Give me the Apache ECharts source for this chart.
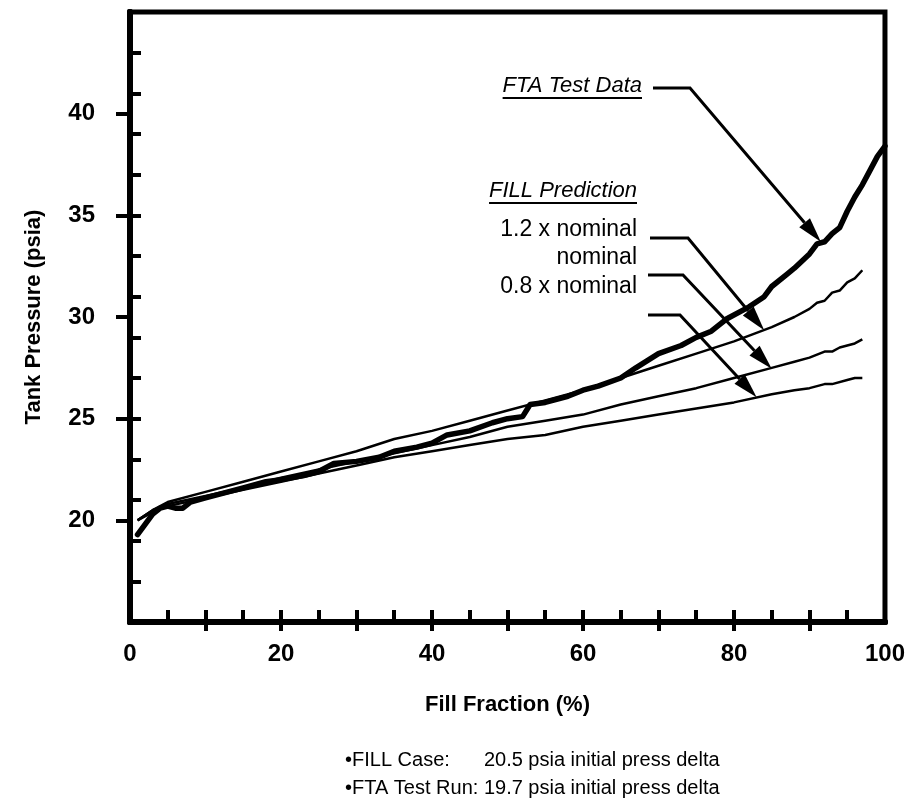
<!DOCTYPE html>
<html><head><meta charset="utf-8">
<script src="https://cdn.jsdelivr.net/npm/echarts/dist/echarts.min.js"></script>
<style>html,body{margin:0;padding:0;background:#fff}#c{width:908px;height:812px}</style>
</head><body><div id="c"></div>
<script>
// ---- data ----
const xTickLabels = [0, 20, 40, 60, 80, 100];
const xOuterTicks = [10, 20, 30, 40, 50, 60, 70, 80, 90];
const yTickLabels = [20, 25, 30, 35, 40];

const ftaTest = [
  [1,19.3],[2,19.8],[3,20.3],[4,20.6],[5,20.7],[6,20.6],[7,20.6],[8,20.9],[10,21.1],[12,21.3],
  [15,21.6],[18,21.9],[20,22.0],[23,22.2],[25,22.4],[27,22.8],[30,22.9],[33,23.1],[35,23.4],
  [38,23.6],[40,23.8],[42,24.2],[45,24.4],[48,24.8],[50,25.0],[52,25.1],[53,25.7],[55,25.8],
  [58,26.1],[60,26.4],[62,26.6],[65,27.0],[67,27.5],[70,28.2],[73,28.6],[75,29.0],[77,29.3],
  [79,29.9],[82,30.5],[84,31.0],[85,31.5],[87,32.1],[88,32.4],[90,33.1],[91,33.6],[92,33.7],
  [93,34.1],[94,34.4],[95,35.2],[96,35.9],[97,36.5],[98,37.2],[99,37.9],[100,38.4]
];
const fill12 = [
  [1,20.0],[3,20.5],[5,20.9],[10,21.4],[15,21.9],[20,22.4],[25,22.9],[30,23.4],[35,24.0],
  [40,24.4],[45,24.9],[50,25.4],[55,25.9],[60,26.4],[65,27.0],[70,27.6],[75,28.2],[80,28.8],
  [85,29.5],[88,30.0],[90,30.4],[91,30.7],[92,30.8],[93,31.2],[94,31.3],[95,31.7],[96,31.9],[97,32.3]
];
const fillNom = [
  [1,20.0],[3,20.5],[5,20.8],[10,21.2],[15,21.6],[20,22.1],[25,22.5],[30,22.9],[35,23.3],
  [40,23.7],[45,24.1],[50,24.6],[55,24.9],[60,25.2],[65,25.7],[70,26.1],[75,26.5],[80,27.0],
  [85,27.5],[88,27.8],[90,28.0],[92,28.3],[93,28.3],[94,28.5],[95,28.6],[96,28.7],[97,28.9]
];
const fill08 = [
  [1,20.0],[3,20.4],[5,20.7],[10,21.1],[15,21.5],[20,21.9],[25,22.3],[30,22.7],[35,23.1],
  [40,23.4],[45,23.7],[50,24.0],[55,24.2],[60,24.6],[65,24.9],[70,25.2],[75,25.5],[80,25.8],
  [85,26.2],[88,26.4],[90,26.5],[92,26.7],[93,26.7],[95,26.9],[96,27.0],[97,27.0]
];
const seriesNames = ['FTA Test Data', '1.2 x nominal', 'nominal', '0.8 x nominal'];
const footRows = [['\u2022FILL Case:', '20.5 psia initial press delta'], ['\u2022FTA Test Run:', '19.7 psia initial press delta']];

// ---- chart ----
const FONT = '"Liberation Sans", Arial, Helvetica, sans-serif';
const chart = echarts.init(document.getElementById('c'), null, {renderer: 'canvas'});
const axisCommon = {type: 'value', splitLine: {show: false},
  axisLine: {show: true, lineStyle: {color: '#000', width: 6}}};
const lbl = {color: '#000', fontFamily: FONT, fontWeight: 'bold', fontSize: 24};

const option = {
  animation: false,
  backgroundColor: '#fff',
  grid: {left: 130, right: 13, top: 12, bottom: 190, show: true, borderColor: '#000', borderWidth: 5},
  xAxis: [
    Object.assign({}, axisCommon, {min: 0, max: 100, interval: 5, position: 'bottom',
      axisTick: {inside: true, length: 12, lineStyle: {width: 4, color: '#000'}},
      axisLabel: {show: false}}),
    Object.assign({}, axisCommon, {min: 0, max: 100, interval: 10, position: 'bottom',
      axisTick: {inside: false, length: 9, customValues: xOuterTicks, lineStyle: {width: 4, color: '#000'}},
      axisLabel: Object.assign({margin: 20, customValues: xTickLabels,
        formatter: v => xTickLabels.includes(v) ? String(v) : ''}, lbl),
      name: 'Fill Fraction (%)', nameLocation: 'middle', nameGap: 72,
      nameTextStyle: {color: '#000', fontFamily: FONT, fontWeight: 'bold', fontSize: 22}})
  ],
  yAxis: [
    Object.assign({}, axisCommon, {min: 15, max: 45, interval: 2, position: 'left',
      axisTick: {inside: true, length: 11, lineStyle: {width: 4, color: '#000'}},
      axisLabel: {show: false}}),
    Object.assign({}, axisCommon, {min: 15, max: 45, interval: 5, position: 'left',
      axisTick: {inside: false, length: 14, customValues: yTickLabels, lineStyle: {width: 4, color: '#000'}},
      axisLabel: Object.assign({margin: 35, customValues: yTickLabels,
        formatter: v => yTickLabels.includes(v) ? String(v) : ''}, lbl),
      name: 'Tank Pressure (psia)', nameLocation: 'middle', nameGap: 85, nameRotate: 90,
      nameTextStyle: {color: '#000', fontFamily: FONT, fontWeight: 'bold', fontSize: 22}})
  ],
  series: [
    {name: seriesNames[1], type: 'line', data: fill12, showSymbol: false, z: 3,
      lineStyle: {color: '#000', width: 2.5}},
    {name: seriesNames[2], type: 'line', data: fillNom, showSymbol: false, z: 3,
      lineStyle: {color: '#000', width: 2.5}},
    {name: seriesNames[3], type: 'line', data: fill08, showSymbol: false, z: 3,
      lineStyle: {color: '#000', width: 2.5}},
    {name: seriesNames[0], type: 'line', data: ftaTest, showSymbol: false, z: 4,
      lineStyle: {color: '#000', width: 5.5, join: 'round', cap: 'round'}}
  ]
};
chart.setOption(option);

// ---- annotations ----
const ctx = document.createElement('canvas').getContext('2d');
function textW(t, size, style) { ctx.font = (style || '') + ' ' + size + 'px ' + FONT; return ctx.measureText(t).width; }
const els = [];
function label(t, right, cy, italic, underline, size) {
  const w = textW(t, size, italic ? 'italic' : '');
  els.push({type: 'text', x: right - w, y: cy, z: 10,
    style: {text: t, fill: '#000', font: (italic ? 'italic ' : '') + size + 'px ' + FONT, textVerticalAlign: 'middle'}});
  if (underline) {
    els.push({type: 'line', z: 10, shape: {x1: right - w, y1: cy + 12, x2: right, y2: cy + 12},
      style: {stroke: '#000', lineWidth: 2}});
  }
}
function leader(x0, x1, y, tipData) {
  const [tx, ty] = chart.convertToPixel({xAxisIndex: 0, yAxisIndex: 0}, tipData);
  let dx = tx - x1, dy = ty - y; const L = Math.hypot(dx, dy); dx /= L; dy /= L;
  const HL = 25, HW = 7;
  const bx = tx - dx * HL, by = ty - dy * HL;
  els.push({type: 'polyline', z: 10, shape: {points: [[x0, y], [x1, y], [bx, by]]},
    style: {stroke: '#000', lineWidth: 3, fill: null}});
  els.push({type: 'polygon', z: 10, shape: {points: [[tx, ty], [bx - dy * HW, by + dx * HW], [bx + dy * HW, by - dx * HW]]},
    style: {fill: '#000'}});
}
label('FTA Test Data', 642, 86, true, true, 22);
leader(653, 690, 88, [91.5, 33.7]);
label('FILL Prediction', 637, 191, true, true, 22);
label('1.2 x nominal', 637, 230, false, false, 23);
leader(650, 688, 238, [84, 29.35]);
label('nominal', 637, 258, false, false, 23);
leader(648, 683, 275, [85, 27.45]);
label('0.8 x nominal', 637, 287, false, false, 23);
leader(648, 680, 315, [83, 26.05]);

// footnote
const FS = 20;
const col2 = 345 + textW(footRows[1][0] + ' ', FS, '');
footRows.forEach((r, i) => {
  const y = 760 + i * 28;
  els.push({type: 'text', x: 345, y: y, style: {text: r[0], fill: '#000', font: FS + 'px ' + FONT, textVerticalAlign: 'middle'}});
  els.push({type: 'text', x: col2, y: y, style: {text: r[1], fill: '#000', font: FS + 'px ' + FONT, textVerticalAlign: 'middle'}});
});
chart.setOption({graphic: {elements: els}});
</script></body></html>
